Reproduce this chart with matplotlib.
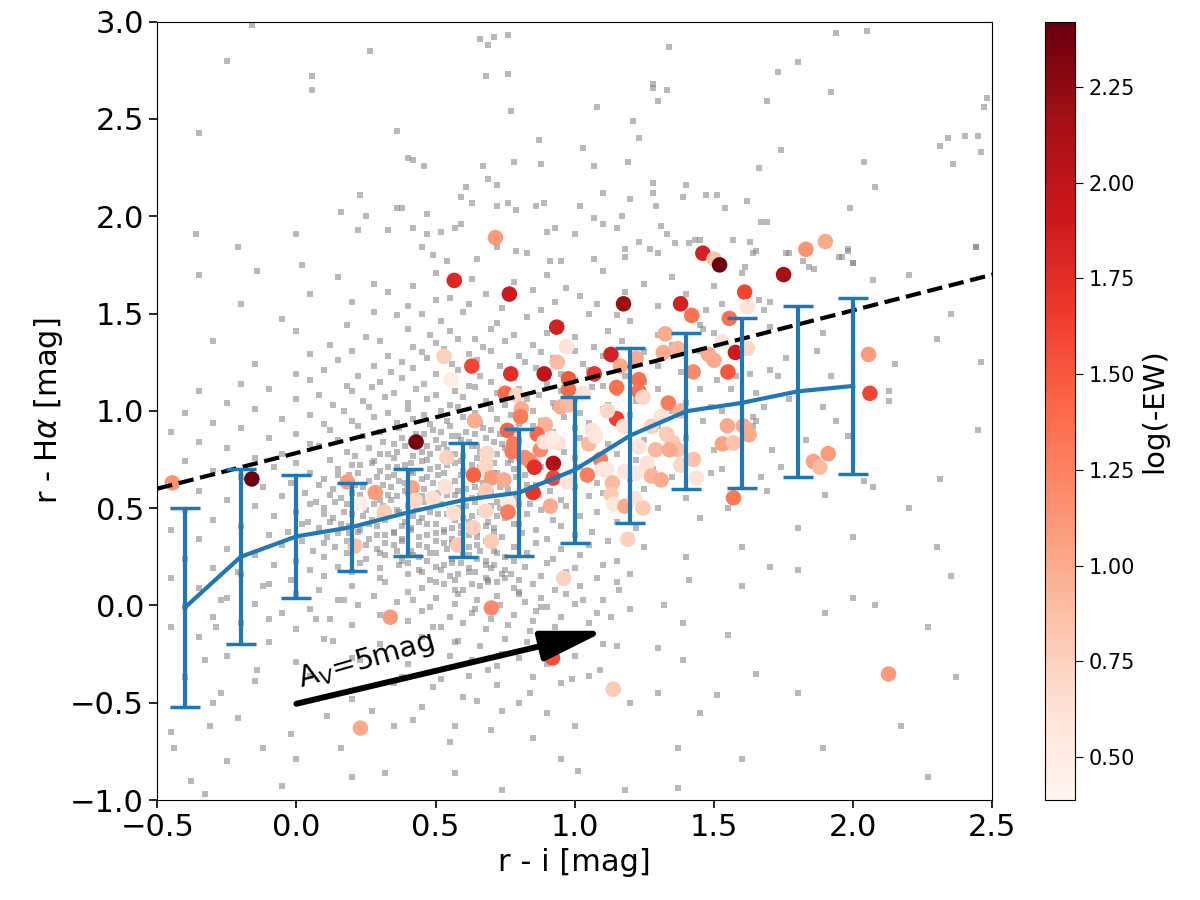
import matplotlib
matplotlib.use("Agg")
import matplotlib.pyplot as plt
import numpy as np

# ---------------- data ----------------
# background sample (grey dots): (r-i, r-Halpha)
bg_points = [
    # sparse upper region
    (-0.16,2.98),(-0.25,2.80),(0.055,2.72),(0.055,2.65),(-0.35,2.43),(0.265,2.85),(0.66,2.91),(0.71,2.92),
    (0.76,2.93),(0.69,2.88),(0.68,2.72),(0.76,2.73),(0.77,2.54),(0.36,2.44),(0.40,2.30),(0.42,2.29),
    (0.46,2.26),(0.67,2.26),(0.69,2.19),(0.72,2.16),(0.78,2.28),(0.88,2.27),(0.87,2.39),(1.03,2.35),
    (1.07,2.26),(1.08,2.56),(1.21,2.49),(1.23,2.40),(1.19,2.28),(1.28,2.68),(1.28,2.66),(1.33,2.65),
    (1.30,2.59),(1.34,2.87),(1.28,2.17),(1.40,2.16),(1.66,2.25),(1.69,2.59),(1.73,2.74),(1.80,2.79),
    (1.74,2.34),(1.94,2.94),(2.05,2.95),(1.92,2.64),(2.04,2.28),(2.08,2.15),(1.99,2.04),(2.31,2.36),
    (2.34,2.40),(2.40,2.41),(2.45,2.41),(2.36,2.27),(2.46,2.33),(2.47,2.56),(2.48,2.61),(2.44,1.84),
    (-0.36,1.91),(-0.21,1.84),(0.00,1.91),(0.02,1.75),(0.16,2.02),(0.23,2.11),(0.22,1.93),(0.25,2.00),
    (0.36,2.04),(0.38,2.04),(0.33,1.93),(0.42,1.94),(0.47,2.01),(0.47,1.91),(0.52,1.92),(0.59,2.10),
    (0.61,2.15),(0.59,1.96),(0.57,1.94),(0.63,2.07),(0.72,2.05),(0.76,2.07),(0.79,2.03),(0.86,2.05),
    (0.89,2.07),(0.93,1.94),(0.90,1.92),(1.00,1.91),(1.02,2.05),(1.07,1.99),(1.10,2.12),(1.10,1.96),
    (1.15,1.94),(1.17,2.00),(1.20,2.09),(1.23,1.87),(1.31,1.95),(1.28,2.12),(1.29,2.05),(1.33,1.91),
    (1.39,2.10),(1.47,2.11),(1.51,2.11),(1.54,2.04),(1.62,2.08),(1.67,1.97),(1.69,1.97),(1.63,1.87),
    (1.65,1.82),(1.45,1.88),(1.41,1.86),(1.36,1.86),(1.27,1.83),(1.30,1.81),(1.18,1.83),(1.18,1.79),
    (1.07,1.78),(0.95,1.77),(0.91,1.77),(0.79,1.82),(0.83,1.81),(0.72,1.84),(0.65,1.78),(0.54,1.77),
    (0.45,1.84),(0.49,1.80),(-0.14,1.72),(1.95,1.79),(1.98,1.82),(2.00,1.76),(1.77,1.81),(1.84,1.74),
    (1.82,1.77),(-0.35,1.70),(0.15,1.69),(0.50,1.71),(0.63,1.68),(0.90,1.70),(1.10,1.72),(1.35,1.69),
    (2.20,1.70),(0.28,1.65),(0.42,1.64),(0.78,1.66),(0.97,1.63),(1.25,1.65),(1.50,1.64),(0.05,1.60),
    (0.33,1.61),(0.55,1.58),(0.68,1.60),(0.85,1.62),(1.02,1.59),(1.18,1.61),(1.40,1.60),(-0.20,1.55),
    (0.20,1.56),(0.40,1.54),(0.50,1.57),(0.62,1.55),(0.74,1.53),(0.93,1.56),(1.08,1.55),(1.30,1.54),
    (1.70,1.56),(2.35,1.50),
    # right-hand sparse region
    (2.44,1.84),(2.46,1.25),(2.31,0.65),(2.30,1.37),(2.15,1.24),(2.13,1.05),(2.13,1.10),(2.07,1.67),
    (2.00,1.76),(1.98,1.83),(1.96,1.79),(2.07,0.61),(2.04,0.64),(1.90,0.57),(1.98,0.87),(1.94,0.95),
    (1.89,1.02),(1.83,0.85),(1.77,1.06),(1.73,1.18),(1.76,1.27),(1.87,1.31),(1.89,1.40),(1.92,1.18),
    (1.71,0.80),(1.74,0.71),(1.67,0.66),(1.69,0.59),(1.65,1.09),(1.70,1.21),(1.86,1.73),(1.76,1.81),
    (1.70,1.43),(1.66,1.57),(1.68,1.52),(1.47,1.52),(1.46,1.42),(1.51,1.16),(1.45,1.11),(1.49,1.02),
    (1.53,1.00),(1.46,0.95),(1.56,1.11),(1.65,0.95),(1.50,0.80),(1.49,0.68),(1.53,0.70),(1.64,0.97),
    (1.68,1.02),(1.58,1.18),(1.63,1.19),(1.53,1.55),(1.60,1.71),(1.64,1.81),(1.43,1.88),(1.57,1.88),
    (1.61,1.74),(1.64,0.92),(2.30,0.30),(2.20,0.50),(2.45,0.90),(2.35,0.15),(1.80,0.40),(1.60,0.30),
    (1.70,0.20),(1.55,0.50),(2.00,0.35),(1.45,0.45),(1.40,0.25),
    # lower sparse region
    (2.00,0.04),(1.90,-0.04),(1.55,-0.15),(1.39,-0.09),(1.30,-0.22),(1.39,-0.28),(1.65,-0.35),(1.30,-0.45),
    (1.51,-0.46),(1.45,-0.55),(2.17,-0.62),(1.18,-0.95),(1.37,-0.94),(1.01,-0.85),(0.95,-0.79),(0.74,-0.95),
    (0.57,-0.86),(0.32,-0.86),(0.16,-0.73),(0.00,-0.79),(-0.33,-0.97),(-0.44,-0.73),(-0.31,-0.62),(-0.21,-0.58),
    (1.15,-0.21),(1.09,-0.33),(0.99,-0.38),(0.84,-0.45),(0.74,-0.54),(0.65,-0.49),(0.57,-0.62),(0.42,-0.59),
    (0.27,-0.54),(0.11,-0.57),(-0.02,-0.66),(-0.12,-0.73),(-0.27,-0.45),(-0.33,-0.28),(-0.29,-0.11),(-0.27,0.03),
    (-0.21,0.17),(-0.12,0.10),(-0.10,-0.07),(-0.14,-0.33),(0.07,-0.07),(0.17,0.03),(0.13,-0.18),(0.23,-0.28),
    (0.38,-0.37),(0.49,-0.42),(0.57,-0.19),(0.49,-0.11),(0.42,0.03),(0.57,0.08),(0.69,0.13),(0.80,0.06),
    (0.88,-0.01),(1.03,0.03),(1.13,-0.06),(0.84,-0.13),(0.74,-0.25),(0.69,-0.33),(1.16,0.08),(1.32,0.00),
    (1.41,0.13),(1.60,0.10),(1.80,0.18),(2.08,0.00),(2.27,-0.11),(2.37,-0.37),(1.80,-0.45),(1.60,-0.79),
    (1.89,-0.73),(2.27,-0.88),(1.37,-0.73),(-0.38,-0.90),(-0.25,-0.80),(-0.05,-0.93),(0.20,-0.88),
    # halo and core rows
    (-0.05,1.47),(0.18,1.44),(0.36,1.49),(0.52,1.46),(0.60,1.51),(0.72,1.45),(0.83,1.48),(0.95,1.44),
    (1.05,1.50),(1.20,1.46),(1.45,1.44),(0.28,1.51),(0.45,1.50),(0.88,1.52),(1.15,1.49),
    (0.00,1.41),(0.25,1.38),(0.40,1.42),(0.48,1.39),(0.55,1.41),(0.64,1.37),(0.70,1.42),(0.78,1.39),
    (0.90,1.40),(1.00,1.38),(1.12,1.41),(1.30,1.39),(1.50,1.40),
    (-0.30,1.36),(0.12,1.34),(0.30,1.36),(0.42,1.33),(0.50,1.35),(0.58,1.37),(0.67,1.33),(0.75,1.36),
    (0.85,1.34),(0.97,1.35),(1.07,1.33),(1.17,1.36),(1.35,1.34),
    (0.05,1.29),(0.20,1.31),(0.33,1.28),(0.45,1.30),(0.53,1.32),(0.62,1.29),(0.70,1.31),(0.80,1.28),
    (0.88,1.30),(1.00,1.31),(1.10,1.28),(1.25,1.30),(1.45,1.31),
    (-0.15,1.24),(0.15,1.26),(0.28,1.23),(0.38,1.25),(0.47,1.27),(0.56,1.24),(0.65,1.26),(0.73,1.23),
    (0.82,1.25),(0.92,1.27),(1.03,1.24),(1.14,1.26),(1.30,1.23),
    (0.00,1.19),(0.10,1.21),(0.22,1.18),(0.34,1.20),(0.42,1.22),(0.50,1.19),(0.58,1.21),(0.66,1.18),
    (0.76,1.20),(0.86,1.22),(0.95,1.19),(1.05,1.21),(1.18,1.18),(1.38,1.20),
    (-0.20,1.14),(0.05,1.16),(0.18,1.13),(0.30,1.15),(0.38,1.17),(0.46,1.14),(0.54,1.16),(0.62,1.13),
    (0.70,1.15),(0.78,1.17),(0.90,1.14),(1.00,1.16),(1.10,1.13),(1.25,1.15),
    (-0.35,1.10),(-0.10,1.11),(0.08,1.08),(0.20,1.10),(0.27,1.12),(0.35,1.09),(0.43,1.11),(0.50,1.08),
    (0.57,1.10),(0.64,1.12),(0.72,1.09),(0.80,1.11),(0.87,1.08),(0.95,1.10),(1.06,1.12),(1.15,1.09),(1.30,1.11),
    (-0.25,1.04),(0.00,1.06),(0.13,1.03),(0.24,1.05),(0.32,1.07),(0.40,1.04),(0.47,1.06),(0.55,1.03),
    (0.60,1.07),(0.68,1.05),(0.75,1.03),(0.83,1.06),(0.92,1.04),(1.00,1.06),(1.12,1.03),(1.22,1.05),(1.40,1.04),
    (-0.40,0.99),(-0.15,1.01),(0.05,0.98),(0.17,1.00),(0.26,1.02),(0.33,0.99),(0.40,1.01),(0.46,0.98),
    (0.52,1.00),(0.58,1.02),(0.64,0.99),(0.70,1.01),(0.77,0.98),(0.85,1.00),(0.93,1.02),(1.02,0.99),
    (1.10,1.01),(1.20,0.98),(1.35,1.00),
    (-0.30,0.94),(-0.05,0.96),(0.10,0.93),(0.20,0.95),(0.28,0.97),(0.36,0.94),(0.42,0.96),(0.48,0.93),
    (0.54,0.95),(0.60,0.97),(0.66,0.94),(0.72,0.96),(0.80,0.93),(0.88,0.95),(0.96,0.97),(1.05,0.94),
    (1.15,0.96),(1.28,0.93),
    (-0.45,0.89),(-0.20,0.91),(0.00,0.88),(0.12,0.90),(0.22,0.92),(0.30,0.89),(0.37,0.91),(0.43,0.88),
    (0.49,0.90),(0.55,0.92),(0.61,0.89),(0.67,0.91),(0.73,0.88),(0.79,0.90),(0.85,0.92),(0.92,0.89),
    (1.00,0.91),(1.08,0.88),(1.18,0.90),(1.30,0.92),
    (-0.35,0.84),(-0.10,0.86),(0.05,0.83),(0.15,0.85),(0.24,0.87),(0.31,0.84),(0.38,0.86),(0.44,0.83),
    (0.50,0.85),(0.56,0.87),(0.62,0.84),(0.68,0.86),(0.74,0.83),(0.80,0.85),(0.87,0.87),(0.94,0.84),
    (1.02,0.86),(1.12,0.83),(1.25,0.85),(1.40,0.86),
    (-0.25,0.81),(-0.05,0.78),(0.08,0.82),(0.18,0.79),(0.26,0.81),(0.33,0.78),(0.39,0.82),(0.45,0.79),
    (0.51,0.81),(0.57,0.78),(0.63,0.82),(0.69,0.79),(0.75,0.81),(0.81,0.78),(0.88,0.82),(0.96,0.79),
    (1.05,0.81),(1.15,0.78),(1.30,0.80),
    (-0.40,0.74),(-0.15,0.76),(0.00,0.73),(0.12,0.75),(0.21,0.77),(0.28,0.74),(0.35,0.76),(0.41,0.73),
    (0.47,0.75),(0.53,0.77),(0.59,0.74),(0.65,0.76),(0.71,0.73),(0.77,0.75),(0.84,0.77),(0.91,0.74),
    (1.00,0.76),(1.10,0.73),(1.22,0.75),(1.40,0.74),
    (-0.30,0.69),(-0.08,0.71),(0.05,0.68),(0.15,0.70),(0.23,0.72),(0.30,0.69),(0.36,0.71),(0.42,0.68),
    (0.48,0.70),(0.54,0.72),(0.60,0.69),(0.66,0.71),(0.72,0.68),(0.78,0.70),(0.85,0.72),(0.93,0.69),
    (1.02,0.71),(1.12,0.68),(1.28,0.70),
    (-0.45,0.64),(-0.20,0.66),(-0.02,0.63),(0.10,0.65),(0.19,0.67),(0.26,0.64),(0.33,0.66),(0.39,0.63),
    (0.45,0.65),(0.51,0.67),(0.57,0.64),(0.63,0.66),(0.69,0.63),(0.75,0.65),(0.82,0.67),(0.90,0.64),
    (0.98,0.66),(1.08,0.63),(1.20,0.65),(1.35,0.66),
    (-0.35,0.59),(-0.12,0.61),(0.03,0.58),(0.13,0.60),(0.21,0.62),(0.28,0.59),(0.34,0.61),(0.40,0.58),
    (0.46,0.60),(0.52,0.62),(0.58,0.59),(0.64,0.61),(0.70,0.58),(0.76,0.60),(0.83,0.62),(0.91,0.59),
    (1.00,0.61),(1.10,0.58),(1.25,0.60),
    (-0.25,0.54),(-0.05,0.56),(0.07,0.53),(0.16,0.55),(0.23,0.57),(0.30,0.54),(0.36,0.56),(0.42,0.53),
    (0.48,0.55),(0.54,0.57),(0.60,0.54),(0.66,0.56),(0.72,0.53),(0.79,0.55),(0.87,0.57),(0.95,0.54),
    (1.05,0.56),(1.18,0.53),(1.40,0.55),
    (-0.40,0.49),(-0.15,0.51),(0.00,0.48),(0.10,0.50),(0.18,0.52),(0.25,0.49),(0.31,0.51),(0.37,0.48),
    (0.43,0.50),(0.49,0.52),(0.55,0.49),(0.61,0.51),(0.67,0.48),(0.73,0.50),(0.80,0.52),(0.88,0.49),
    (0.97,0.51),(1.08,0.48),(1.30,0.50),
    (-0.30,0.44),(-0.08,0.46),(0.04,0.43),(0.13,0.45),(0.20,0.47),(0.27,0.44),(0.33,0.46),(0.39,0.43),
    (0.45,0.45),(0.51,0.47),(0.57,0.44),(0.63,0.46),(0.69,0.43),(0.75,0.45),(0.83,0.47),(0.92,0.44),
    (1.02,0.46),(1.15,0.43),
    (-0.45,0.39),(-0.20,0.41),(-0.03,0.38),(0.08,0.40),(0.16,0.42),(0.23,0.39),(0.29,0.41),(0.35,0.38),
    (0.41,0.40),(0.47,0.42),(0.53,0.39),(0.59,0.41),(0.65,0.38),(0.71,0.40),(0.78,0.42),(0.86,0.39),
    (0.95,0.41),(1.06,0.38),(1.22,0.40),
    (-0.35,0.34),(-0.10,0.36),(0.02,0.33),(0.11,0.35),(0.19,0.37),(0.26,0.34),(0.32,0.36),(0.38,0.33),
    (0.44,0.35),(0.50,0.37),(0.56,0.34),(0.62,0.36),(0.68,0.33),(0.74,0.35),(0.81,0.37),(0.90,0.34),
    (1.00,0.36),(1.12,0.33),
    (-0.25,0.29),(-0.05,0.31),(0.06,0.28),(0.14,0.30),(0.22,0.32),(0.29,0.29),(0.35,0.31),(0.41,0.28),
    (0.47,0.30),(0.53,0.32),(0.59,0.29),(0.65,0.31),(0.71,0.28),(0.78,0.30),(0.86,0.32),(0.95,0.29),
    (1.05,0.31),(1.25,0.30),
    (-0.40,0.24),(-0.15,0.26),(0.00,0.23),(0.10,0.25),(0.18,0.27),(0.25,0.24),(0.32,0.26),(0.38,0.23),
    (0.44,0.25),(0.50,0.27),(0.56,0.24),(0.62,0.26),(0.68,0.23),(0.75,0.25),(0.83,0.27),(0.92,0.24),
    (1.02,0.26),(1.15,0.23),
    (-0.30,0.19),(-0.08,0.21),(0.05,0.18),(0.15,0.20),(0.23,0.22),(0.30,0.19),(0.37,0.21),(0.44,0.18),
    (0.50,0.20),(0.56,0.22),(0.62,0.19),(0.68,0.21),(0.75,0.18),(0.82,0.20),(0.90,0.22),(1.00,0.19),(1.10,0.21),
    (-0.45,0.14),(-0.20,0.16),(-0.02,0.13),(0.10,0.15),(0.20,0.17),(0.30,0.14),(0.40,0.16),(0.48,0.13),
    (0.55,0.15),(0.62,0.17),(0.68,0.14),(0.74,0.16),(0.80,0.13),(0.88,0.15),(0.97,0.17),(1.08,0.14),(1.20,0.16),
    (-0.35,0.09),(-0.10,0.11),(0.08,0.08),(0.20,0.10),(0.32,0.12),(0.45,0.09),(0.53,0.11),(0.60,0.08),
    (0.66,0.10),(0.72,0.12),(0.78,0.09),(0.85,0.11),(0.93,0.08),(1.02,0.10),(1.15,0.12),
    (-0.25,0.04),(0.00,0.06),(0.15,0.03),(0.28,0.05),(0.40,0.07),(0.50,0.04),(0.58,0.06),(0.65,0.03),
    (0.72,0.05),(0.80,0.07),(0.88,0.04),(0.97,0.06),(1.10,0.03),
    (-0.40,-0.01),(-0.15,0.01),(0.05,-0.02),(0.22,0.00),(0.36,0.02),(0.48,-0.01),(0.57,0.01),(0.64,-0.02),
    (0.73,0.00),(0.82,0.02),(0.90,-0.01),(1.00,0.01),(1.20,-0.02),
    (-0.30,-0.06),(-0.05,-0.04),(0.12,-0.07),(0.30,-0.05),(0.45,-0.03),(0.55,-0.06),(0.63,-0.04),(0.70,-0.07),
    (0.78,-0.05),(0.86,-0.03),(0.95,-0.06),(1.08,-0.04),
    (-0.45,-0.11),(-0.20,-0.09),(0.00,-0.12),(0.20,-0.10),(0.40,-0.08),(0.52,-0.11),(0.60,-0.09),(0.68,-0.12),
    (0.76,-0.10),(0.85,-0.08),(0.93,-0.11),(1.05,-0.09),
    (-0.35,-0.16),(-0.10,-0.19),(0.10,-0.17),(0.30,-0.20),(0.45,-0.16),(0.58,-0.18),(0.66,-0.21),(0.75,-0.17),
    (0.83,-0.19),(0.95,-0.16),(1.10,-0.20),
    (-0.25,-0.26),(0.00,-0.29),(0.20,-0.27),(0.40,-0.30),(0.55,-0.26),(0.63,-0.28),(0.72,-0.31),(0.80,-0.27),
    (0.90,-0.30),(1.00,-0.26),
    (-0.40,-0.37),(-0.15,-0.39),(0.05,-0.36),(0.35,-0.40),(0.52,-0.38),(0.62,-0.36),(0.72,-0.41),(0.85,-0.37),
    (0.95,-0.40),(1.05,-0.36),
    (-0.30,-0.50),(0.20,-0.48),(0.45,-0.52),(0.60,-0.47),(0.80,-0.50),(0.90,-0.55),(1.20,-0.50),
    (-0.45,-0.65),(0.35,-0.62),(0.55,-0.70),(0.70,-0.64),(0.85,-0.68),(1.00,-0.62),
    # extra core density
    (0.30,0.78),(0.36,0.79),(0.42,0.77),(0.48,0.78),(0.54,0.80),(0.60,0.77),(0.66,0.79),(0.72,0.78),(0.80,0.76),
    (0.20,0.72),(0.27,0.73),(0.33,0.71),(0.39,0.72),(0.45,0.74),(0.51,0.71),(0.57,0.73),(0.63,0.72),(0.69,0.70),(0.76,0.73),(0.88,0.71),
    (0.15,0.67),(0.22,0.68),(0.29,0.66),(0.35,0.67),(0.41,0.69),(0.47,0.66),(0.53,0.68),(0.59,0.67),(0.65,0.65),(0.71,0.68),(0.79,0.66),
    (0.08,0.62),(0.17,0.63),(0.24,0.61),(0.31,0.62),(0.37,0.64),(0.43,0.61),(0.49,0.63),(0.55,0.62),(0.61,0.60),(0.67,0.63),(0.73,0.61),(0.86,0.62),
    (0.12,0.57),(0.20,0.58),(0.27,0.56),(0.33,0.57),(0.39,0.59),(0.45,0.56),(0.51,0.58),(0.57,0.57),(0.63,0.55),(0.69,0.58),(0.76,0.56),
    (0.05,0.52),(0.14,0.53),(0.22,0.51),(0.28,0.52),(0.34,0.54),(0.40,0.51),(0.46,0.53),(0.52,0.52),(0.58,0.50),(0.64,0.53),(0.70,0.51),(0.84,0.52),
    (0.10,0.47),(0.17,0.48),(0.24,0.46),(0.30,0.47),(0.36,0.49),(0.42,0.46),(0.48,0.48),(0.54,0.47),(0.60,0.45),(0.66,0.48),(0.72,0.46),
    (0.02,0.42),(0.12,0.43),(0.19,0.41),(0.26,0.42),(0.32,0.44),(0.38,0.41),(0.44,0.43),(0.50,0.42),(0.56,0.40),(0.62,0.43),(0.68,0.41),(0.80,0.42),
    (0.15,0.37),(0.22,0.38),(0.29,0.36),(0.35,0.37),(0.41,0.39),(0.47,0.36),(0.53,0.38),(0.59,0.37),(0.65,0.35),(0.71,0.38),
    (0.10,0.32),(0.18,0.33),(0.25,0.31),(0.32,0.32),(0.38,0.34),(0.44,0.31),(0.50,0.33),(0.56,0.32),(0.62,0.30),(0.70,0.33),
    (0.30,0.27),(0.36,0.28),(0.42,0.26),(0.48,0.27),(0.54,0.29),(0.60,0.26),(0.66,0.28),(0.72,0.27),
    (0.40,0.22),(0.47,0.23),(0.53,0.21),(0.59,0.22),(0.65,0.24),(0.71,0.21),(0.78,0.23),
    (0.45,0.17),(0.52,0.18),(0.58,0.16),(0.64,0.17),(0.70,0.19),(0.77,0.16),
    (0.50,0.12),(0.57,0.13),(0.63,0.11),(0.69,0.12),(0.75,0.14),
    (0.35,0.83),(0.41,0.84),(0.47,0.82),(0.53,0.83),(0.59,0.85),(0.65,0.82),(0.71,0.84),
    (0.46,0.88),(0.52,0.89),(0.58,0.87),(0.64,0.88),(0.70,0.90),
]
bg_x = [p[0] for p in bg_points]
bg_y = [p[1] for p in bg_points]

# emission-line stars: (r-i, r-Halpha, log(-EW))
em_points = [
    (-0.446,0.63,1.15),(-0.16,0.65,2.40),(0.43,0.84,2.35),(0.567,1.67,1.80),(0.715,1.89,1.10),
    (0.765,1.60,1.90),(1.175,1.55,2.20),(1.38,1.55,1.85),(1.42,1.49,1.35),(1.46,1.81,1.85),
    (1.50,1.78,0.85),(1.52,1.75,2.40),(1.75,1.70,2.15),(1.83,1.83,1.15),(1.90,1.87,1.00),
    (1.61,1.61,1.60),(1.62,1.535,0.60),(1.555,1.475,1.35),(1.53,1.355,0.60),(1.577,1.30,1.90),
    (1.62,1.32,0.70),(1.48,1.29,1.00),(1.50,1.26,1.00),(1.425,1.20,1.20),(1.55,1.20,1.50),
    (2.055,1.29,1.10),(2.06,1.09,1.60),(1.548,0.923,1.00),(1.605,0.923,1.00),(1.626,0.877,1.00),
    (1.53,0.83,1.05),(1.57,0.835,0.85),(1.426,0.75,0.85),(1.437,0.655,0.60),(1.857,0.74,1.05),
    (1.88,0.71,0.90),(1.91,0.78,1.10),(1.57,0.553,1.30),(0.935,1.43,1.85),(0.97,1.33,0.60),
    (0.937,1.25,0.90),(0.53,1.28,0.75),(0.63,1.23,1.60),(0.556,1.16,0.50),(0.77,1.19,1.75),
    (0.89,1.19,2.00),(0.977,1.165,1.50),(1.07,1.19,1.70),(1.13,1.29,1.85),(1.164,1.23,1.00),
    (1.22,1.27,1.00),(1.325,1.396,1.00),(1.318,1.30,1.00),(1.37,1.32,0.95),(0.977,1.11,1.40),
    (1.03,1.09,0.60),(0.75,1.09,1.40),(0.79,1.08,0.70),(1.15,1.12,1.35),(1.23,1.16,1.35),
    (1.23,1.10,1.35),(1.245,1.07,0.70),(1.336,1.04,1.30),(1.15,0.96,1.65),(1.117,1.00,0.70),
    (1.175,0.92,0.60),(0.95,1.02,1.00),(0.975,1.03,0.90),(0.894,0.93,0.95),(0.865,0.88,1.40),
    (0.92,0.85,0.70),(0.94,0.835,0.60),(0.876,0.80,1.20),(0.923,0.73,2.10),(1.063,0.90,0.60),
    (1.05,0.83,0.90),(1.23,0.815,0.60),(1.33,0.88,0.80),(1.35,0.84,0.80),(1.37,0.80,0.85),
    (1.29,0.80,0.90),(0.808,1.01,1.00),(0.805,0.97,1.30),(0.64,0.95,1.00),(0.758,0.90,1.45),
    (0.78,0.83,1.30),(0.775,0.79,1.30),(0.54,0.76,0.75),(0.685,0.78,0.70),(0.68,0.72,0.70),
    (0.636,0.67,1.45),(0.70,0.655,1.10),(0.745,0.645,1.00),(0.68,0.59,0.80),(0.535,0.61,0.60),
    (0.76,0.53,0.50),(0.76,0.48,1.30),(0.565,0.475,0.65),(0.68,0.485,0.70),(0.635,0.40,0.75),
    (0.70,0.33,0.80),(0.58,0.31,0.80),(0.82,0.76,1.20),(0.84,0.74,1.20),(0.85,0.58,1.70),
    (0.855,0.71,1.75),(0.923,0.655,1.60),(0.912,0.51,1.00),(0.973,0.635,0.60),(1.045,0.67,1.30),
    (0.89,0.84,0.60),(0.92,0.86,0.50),(1.074,0.87,0.55),(1.092,0.75,1.30),(1.10,0.70,0.55),
    (1.115,0.70,0.55),(1.135,0.63,0.90),(1.13,0.57,0.80),(1.14,0.52,0.55),(1.18,0.51,1.00),
    (1.215,0.55,0.60),(1.245,0.50,0.80),(1.19,0.34,0.75),(1.18,0.69,0.55),(1.22,0.68,0.55),
    (1.26,0.73,0.60),(1.275,0.665,0.95),(1.31,0.645,1.00),(1.275,0.92,0.75),(1.31,0.97,0.60),
    (1.34,0.80,1.00),(1.38,0.72,0.70),(0.337,-0.06,1.10),(0.70,-0.013,1.20),(0.96,0.14,0.75),
    (0.92,-0.27,1.55),(1.138,-0.43,0.80),(2.127,-0.352,1.10),(0.23,-0.63,1.00),(0.183,0.635,1.10),
    (0.283,0.58,1.10),(0.23,0.52,0.45),(0.316,0.48,0.80),(0.21,0.305,0.85),(0.416,0.604,1.05),
    (0.427,0.54,0.70),(0.49,0.55,0.65),(1.38,1.00,0.95),
]
em_x = [p[0] for p in em_points]
em_y = [p[1] for p in em_points]
em_logew = [p[2] for p in em_points]

# binned median locus with spread
bin_x = [-0.4, -0.2, 0.0, 0.2, 0.4, 0.6, 0.8, 1.0, 1.2, 1.4, 1.6, 1.8, 2.0]
bin_y = [-0.01, 0.25, 0.355, 0.403, 0.478, 0.542, 0.58, 0.697, 0.874, 0.998, 1.041, 1.10, 1.128]
bin_err = [0.51, 0.45, 0.316, 0.227, 0.224, 0.293, 0.327, 0.376, 0.45, 0.40, 0.437, 0.44, 0.452]

# selection line
sel_x = [-0.5, 2.5]
sel_y = [0.6, 1.7]

# reddening vector
arrow_start = (0.0, -0.505)
arrow_end = (1.11, -0.13)

# ---------------- plot ----------------
fig = plt.figure(figsize=(12, 9), dpi=100)
ax = fig.add_axes([0.131, 0.111, 0.696, 0.865])
cax = fig.add_axes([0.871, 0.111, 0.025, 0.865])

ax.scatter(bg_x, bg_y, s=13, c='#808080', alpha=0.55, linewidths=0, marker='s', zorder=1)
sc = ax.scatter(em_x, em_y, c=em_logew, cmap='Reds', vmin=0.388, vmax=2.42,
                s=125, linewidths=0, zorder=3)
ax.plot(sel_x, sel_y, '--', color='black', lw=3, zorder=4)
ax.errorbar(bin_x, bin_y, yerr=bin_err, color='#1f77b4', lw=3, elinewidth=3,
            capsize=11, capthick=2.5, zorder=5)

ax.annotate('', xy=arrow_end, xytext=arrow_start,
            arrowprops=dict(arrowstyle='-|>,head_length=0.55,head_width=0.13',
                            lw=4.3, color='black', mutation_scale=70,
                            shrinkA=0, shrinkB=0), zorder=6)
ax.text(0.015, -0.42, r'A$_{\rm V}$=5mag', fontsize=21, rotation=16,
        rotation_mode='anchor', ha='left', va='baseline', zorder=6)

ax.set_xlim(-0.5, 2.5)
ax.set_ylim(-1.0, 3.0)
ax.set_xticks(np.arange(-0.5, 2.51, 0.5))
ax.set_yticks(np.arange(-1.0, 3.01, 0.5))
ax.tick_params(axis='both', labelsize=22, length=6, width=1.2)
ax.set_xlabel('r - i [mag]', fontsize=22)
ax.set_ylabel(r'r - H$\alpha$ [mag]', fontsize=22)

cb = fig.colorbar(sc, cax=cax)
cb.set_ticks([0.5, 0.75, 1.0, 1.25, 1.5, 1.75, 2.0, 2.25])
cb.ax.tick_params(labelsize=15, length=6)
cb.set_label('log(-EW)', fontsize=21)

fig.savefig('out.png', dpi=100)
